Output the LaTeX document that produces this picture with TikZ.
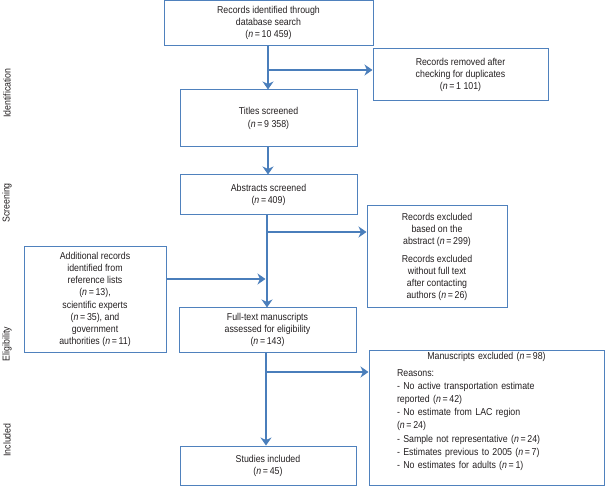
\documentclass[tikz,border=0pt]{standalone}
\usepackage{fontspec}
\setmainfont[FakeStretch=0.88]{Liberation Sans}
\usetikzlibrary{arrows.meta}
\definecolor{linec}{HTML}{4A7EBB}
\definecolor{boxc}{HTML}{4F81BD}
\definecolor{txtc}{HTML}{231F20}
\begin{document}
\begin{tikzpicture}[x=1pt,y=-1pt,
  box/.style={draw=boxc, line width=1pt, align=center, text=txtc,
    font=\fontsize{10}{12.2}\selectfont, inner sep=2pt},
  arr/.style={draw=linec, line width=2.8pt,
    -{Stealth[length=8pt,width=11pt,inset=2.5pt]}},
  side/.style={rotate=90, text=txtc, font=\fontsize{10}{12}\selectfont}]
\useasboundingbox (0,0) rectangle (605,486);
% boxes
\node[box, minimum width=209pt, minimum height=45.5pt] (b1) at (268.5,23.2)
  {Records identified through\\database search\\(\textit{n}\,=\,10 459)};
\node[box, minimum width=175pt, minimum height=52pt] (dup) at (460.5,75)
  {Records removed after\\checking for duplicates\\(\textit{n}\,=\,1 101)};
\node[box, minimum width=177pt, minimum height=57pt] (titles) at (268.5,118.5)
  {Titles screened\\(\textit{n}\,=\,9 358)};
\node[box, minimum width=177pt, minimum height=40pt] (abs) at (268.5,195)
  {Abstracts screened\\(\textit{n}\,=\,409)};
\node[box, minimum width=140pt, minimum height=102pt] (excl) at (437,257)
  {Records excluded\\based on the\\abstract (\textit{n}\,=\,299)\\[5pt]Records excluded\\without full text\\after contacting\\authors (\textit{n}\,=\,26)};
\node[box, minimum width=142pt, minimum height=105pt] (add) at (95,299.5)
  {Additional records\\identified from\\reference lists\\(\textit{n}\,=\,13),\\scientific experts\\(\textit{n}\,=\,35), and\\government\\authorities (\textit{n}\,=\,11)};
\node[box, minimum width=177pt, minimum height=44pt] (full) at (267.5,330)
  {Full-text manuscripts\\assessed for eligibility\\(\textit{n}\,=\,143)};
\node[box, minimum width=235pt, minimum height=135pt] (manu) at (486.5,417.5) {};
\node[text=txtc, font=\fontsize{10}{13.2}\selectfont, text width=179pt, align=left,
  inner sep=0pt, anchor=north] (manutxt) at (486.5,352.5)
  {\hbox to \linewidth{\hss Manuscripts excluded (\textit{n}\,=\,98)\hss}\\[3pt]
   Reasons:\\
   - No active transportation estimate\\
   reported (\textit{n}\,=\,42)\\
   - No estimate from LAC region\\
   (\textit{n}\,=\,24)\\
   - Sample not representative (\textit{n}\,=\,24)\\
   - Estimates previous to 2005 (\textit{n}\,=\,7)\\
   - No estimates for adults (\textit{n}\,=\,1)};
\node[box, minimum width=176pt, minimum height=39.5pt] (stud) at (268,465.8)
  {Studies included\\(\textit{n}\,=\,45)};
% side labels
\node[side] (lid) at (7,93) {Identification};
\node[side] (lsc) at (7,203) {Screening};
\node[side] (lel) at (7,344) {Eligibility};
\node[side] (lin) at (7,440) {Included};
% connectors
\coordinate (j1) at (268,70);
\coordinate (j2) at (267,232);
\coordinate (j3) at (265.5,279);
\coordinate (j4) at (266,372);
\draw[arr] (b1.south -| j1) -- (titles.north -| j1);
\draw[arr] (j1) -- (j1 -| dup.west);
\draw[arr] (titles.south -| j1) -- (abs.north -| j1);
\draw[arr] (abs.south -| j2) -- (full.north -| j2);
\draw[arr] (j2) -- (j2 -| excl.west);
\draw[arr] (add.east |- j3) -- (j3);
\draw[arr] (full.south -| j4) -- (stud.north -| j4);
\draw[arr] (j4) -- (j4 -| manu.west);
\end{tikzpicture}
\end{document}
